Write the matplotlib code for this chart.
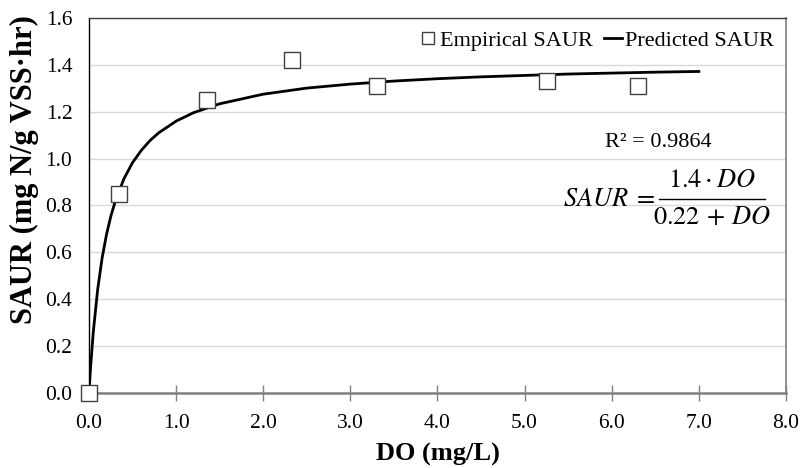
import matplotlib
matplotlib.use("Agg")
import matplotlib.pyplot as plt
from matplotlib.lines import Line2D

# empirical measurements
do_obs = [0.0, 0.34, 1.36, 2.33, 3.31, 5.26, 6.30]
saur_obs = [0.0, 0.85, 1.25, 1.42, 1.31, 1.33, 1.31]

# predicted curve, values
do_pred = [0.0, 0.02, 0.05, 0.1, 0.15, 0.2, 0.25, 0.3, 0.4, 0.5, 0.6, 0.7, 0.8,
           1.0, 1.2, 1.5, 2.0, 2.5, 3.0, 3.5, 4.0, 4.5, 5.0, 5.5, 6.0, 6.5, 7.0]
saur_pred = [0.0, 0.118, 0.262, 0.442, 0.574, 0.674, 0.753, 0.816, 0.913, 0.983,
             1.035, 1.077, 1.110, 1.160, 1.196, 1.234, 1.275, 1.301, 1.318, 1.331,
             1.341, 1.349, 1.355, 1.361, 1.365, 1.369, 1.372]

x_ticks = [0, 1, 2, 3, 4, 5, 6, 7, 8]
y_ticks = [0.0, 0.2, 0.4, 0.6, 0.8, 1.0, 1.2, 1.4, 1.6]

plt.rcParams['font.family'] = ['Liberation Serif', 'DejaVu Serif']
plt.rcParams['mathtext.fontset'] = 'stix'

fig = plt.figure(figsize=(8.03, 4.68), dpi=100)
ax = fig.add_axes([0.1108, 0.1603, 0.868, 0.8012])

ax.plot(do_pred, saur_pred, color='black', linewidth=2, label='Predicted SAUR', zorder=3)
ax.plot(do_obs, saur_obs, linestyle='none', marker='s', markersize=12,
        markerfacecolor='white', markeredgecolor='#404040', markeredgewidth=1,
        label='Empirical SAUR', zorder=4, clip_on=False)

ax.set_xlim(0, 8)
ax.set_ylim(0, 1.6)
ax.set_xticks(x_ticks)
ax.set_xticklabels([f"{v:.1f}" for v in x_ticks])
ax.set_yticks(y_ticks)
ax.set_yticklabels([f"{v:.1f}" for v in y_ticks])

ax.grid(axis='y', color='#d9d9d9', linewidth=1)
ax.set_axisbelow(True)

ax.tick_params(axis='x', direction='inout', length=12, width=1, color='#808080',
               labelsize=15.5, pad=9)
ax.tick_params(axis='y', length=0, labelsize=15.5, pad=12)

ax.spines['left'].set_color('black')
ax.spines['left'].set_linewidth(1)
ax.spines['top'].set_color('#404040')
ax.spines['top'].set_linewidth(1)
ax.spines['right'].set_color('#808080')
ax.spines['right'].set_linewidth(1.2)
ax.spines['bottom'].set_color('#808080')
ax.spines['bottom'].set_linewidth(1.8)

ax.set_xlabel('DO (mg/L)', fontsize=19, fontweight='bold')
ax.xaxis.set_label_coords(0.501, -0.133)
ax.set_ylabel('SAUR (mg N/g VSS·hr)', fontsize=22, fontweight='bold')
ax.yaxis.set_label_coords(-0.072, 0.595)

handles, labels = ax.get_legend_handles_labels()
leg = ax.legend(handles[::-1], labels[::-1], loc='upper right', ncol=2, frameon=False,
                fontsize=16, handlelength=0.8, handletextpad=0.15, columnspacing=0.5,
                borderaxespad=0.15, markerscale=0.72)

ax.text(6.53, 1.067, 'R² = 0.9864', fontsize=16, ha='center', va='center')

# equation: lhs, numerator, fraction bar, denominator
ax.text(6.50, 0.823, r'$SAUR\; =$', fontsize=19, ha='right', va='center')
ax.text(7.15, 0.905, r'$1.4 \cdot DO$', fontsize=19, ha='center', va='center')
ax.text(7.15, 0.748, r'$0.22\, +\, DO$', fontsize=19, ha='center', va='center')
ax.add_line(Line2D([6.54, 7.76], [0.828, 0.828], color='black', linewidth=1))

fig.savefig('out.png', dpi=100)
